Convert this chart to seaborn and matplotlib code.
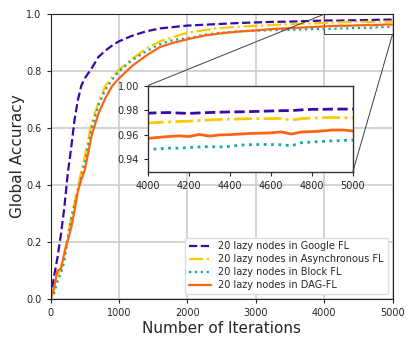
import numpy as np
import pandas as pd
import seaborn as sns
import matplotlib
matplotlib.use("Agg")
import matplotlib.pyplot as plt
from mpl_toolkits.axes_grid1.inset_locator import mark_inset

# iteraciones (eje x)
iters = [0, 50, 100, 150, 200, 250, 300, 350, 400, 450, 500, 600, 700, 800, 900,
         1000, 1200, 1400, 1600, 1800, 2000, 2250, 2500, 2750, 3000, 3250, 3500, 3750,
         4000, 4050, 4100, 4150, 4200, 4250, 4300, 4350, 4400, 4450, 4500,
         4550, 4600, 4650, 4700, 4750, 4800, 4850, 4900, 4950, 5000]

google = [0.0, 0.08, 0.145, 0.225, 0.32, 0.44, 0.53, 0.63, 0.70, 0.75, 0.775, 0.81, 0.85, 0.872, 0.89,
          0.905, 0.925, 0.94, 0.95, 0.955, 0.96, 0.963, 0.966, 0.969, 0.971, 0.973, 0.974, 0.976,
          0.9775, 0.9778, 0.978, 0.9776, 0.9773, 0.9777, 0.978, 0.9783, 0.9785, 0.9786, 0.9788,
          0.979, 0.9793, 0.9795, 0.9796, 0.9802, 0.9806, 0.9806, 0.9808, 0.9808, 0.9808]

asincrono = [0.0, 0.03, 0.08, 0.11, 0.16, 0.22, 0.29, 0.34, 0.395, 0.45, 0.50, 0.62, 0.69, 0.748, 0.78,
             0.805, 0.845, 0.88, 0.905, 0.92, 0.935, 0.944, 0.952, 0.956, 0.959, 0.962, 0.965, 0.967,
             0.9695, 0.970, 0.9703, 0.9707, 0.971, 0.9715, 0.972, 0.9724, 0.9726, 0.9728, 0.973,
             0.973, 0.9731, 0.9732, 0.9718, 0.9731, 0.9735, 0.9738, 0.974, 0.9738, 0.9736]

bloque = [0.0, 0.02, 0.06, 0.09, 0.13, 0.21, 0.28, 0.33, 0.38, 0.43, 0.48, 0.60, 0.68, 0.735, 0.77,
          0.80, 0.84, 0.87, 0.895, 0.91, 0.915, 0.928, 0.935, 0.94, 0.942, 0.944, 0.945, 0.947,
          0.948, 0.9485, 0.949, 0.949, 0.9495, 0.950, 0.9503, 0.950, 0.9505, 0.9515, 0.9518,
          0.952, 0.952, 0.9518, 0.951, 0.9535, 0.954, 0.9545, 0.955, 0.9553, 0.9555]

dag = [0.0, 0.04, 0.10, 0.105, 0.16, 0.205, 0.25, 0.31, 0.38, 0.42, 0.453, 0.575, 0.652, 0.705, 0.748,
       0.775, 0.82, 0.855, 0.885, 0.90, 0.912, 0.925, 0.933, 0.939, 0.943, 0.948, 0.951, 0.954,
       0.957, 0.9578, 0.9585, 0.959, 0.9585, 0.9602, 0.9588, 0.9598, 0.960, 0.9605, 0.961,
       0.9612, 0.9615, 0.9622, 0.9605, 0.9622, 0.9625, 0.963, 0.9638, 0.9638, 0.963]

etiquetas = ['20 lazy nodes in Google FL', '20 lazy nodes in Asynchronous FL',
             '20 lazy nodes in Block FL', '20 lazy nodes in DAG-FL']
colores = ['#3a08a8', '#ffc800', '#17a8a0', '#ff6414']
estilos = ['--', '-.', ':', '-']

df = pd.DataFrame({'iter': iters, 'google': google, 'asincrono': asincrono,
                   'bloque': bloque, 'dag': dag})
columnas = ['google', 'asincrono', 'bloque', 'dag']

sns.set_style("ticks", {"axes.grid": True, "grid.color": "#cccccc", "axes.edgecolor": "#222222"})

fig = plt.figure(figsize=(4.15, 3.46), dpi=100)
ax = fig.add_axes([0.122, 0.136, 0.824, 0.823])

for col, lab, c, ls in zip(columnas, etiquetas, colores, estilos):
    sns.lineplot(data=df, x='iter', y=col, ax=ax, color=c, linestyle=ls, linewidth=1.6, label=lab)

ax.set_xlim(0, 5000)
ax.set_ylim(0, 1.0)
ax.set_xticks([0, 1000, 2000, 3000, 4000, 5000])
ax.set_yticks([0.0, 0.2, 0.4, 0.6, 0.8, 1.0])
ax.tick_params(labelsize=7, length=3)
ax.grid(True, color='#cccccc', linewidth=1.2)
ax.set_xlabel('Number of Iterations', fontsize=11, labelpad=2)
ax.set_ylabel('Global Accuracy', fontsize=11, labelpad=1)
ax.legend(loc='lower right', fontsize=7, framealpha=1, edgecolor='#dddddd',
          handlelength=2.2, borderpad=0.4, labelspacing=0.3)

# zoom de la parte final
axins = ax.inset_axes([0.285, 0.4475, 0.599, 0.302])
for col, c, ls in zip(columnas, colores, estilos):
    sns.lineplot(data=df, x='iter', y=col, ax=axins, color=c, linestyle=ls, linewidth=2.0)
axins.set_xlim(4000, 5000)
axins.set_ylim(0.93, 1.0)
axins.set_xticks([4000, 4200, 4400, 4600, 4800, 5000])
axins.set_yticks([0.94, 0.96, 0.98, 1.00])
axins.set_xlabel('')
axins.set_ylabel('')
axins.grid(False)
axins.set_facecolor('white')
axins.tick_params(labelsize=7, length=3)
for s in axins.spines.values():
    s.set_color('#333333')
    s.set_linewidth(1.0)

mark_inset(ax, axins, loc1=2, loc2=4, fc='none', ec='0.25', lw=0.7)

fig.savefig('out.png', dpi=100)
